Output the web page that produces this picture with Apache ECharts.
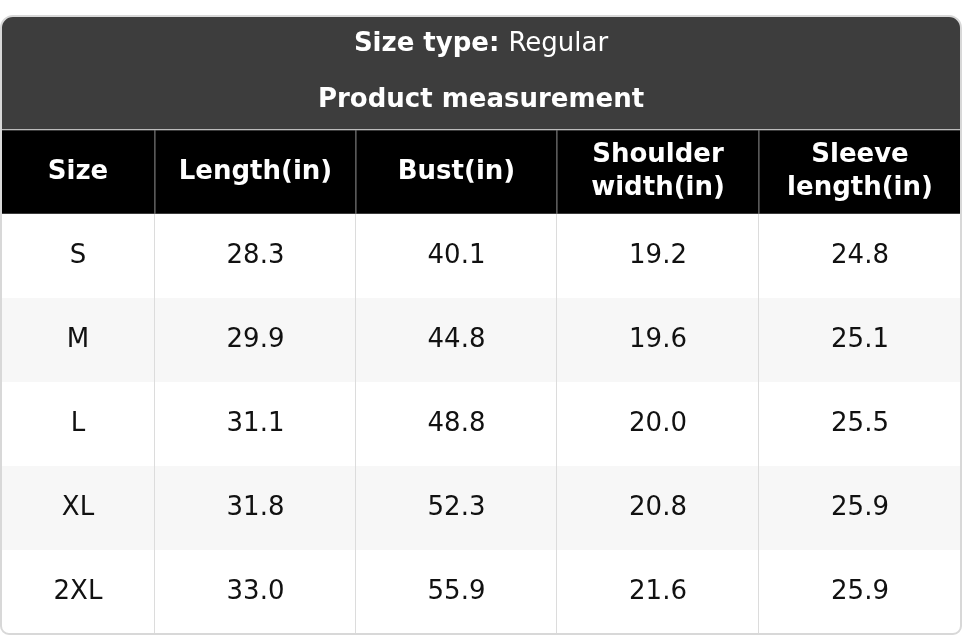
<!DOCTYPE html>
<html><head><meta charset="utf-8">
<script src="https://cdn.jsdelivr.net/npm/echarts@6/dist/echarts.min.js"></script>
<style>html,body{margin:0;padding:0;background:#fff}#c{width:962px;height:636px}</style>
</head><body><div id="c"></div>
<script>
const sizeType = "Regular";
const subtitle = "Product measurement";
const headers = ["Size", "Length(in)", "Bust(in)", "Shoulder\nwidth(in)", "Sleeve\nlength(in)"];
const sizes = ["S", "M", "L", "XL", "2XL"];
const lengthIn = ["28.3", "29.9", "31.1", "31.8", "33.0"];
const bustIn = ["40.1", "44.8", "48.8", "52.3", "55.9"];
const shoulderIn = ["19.2", "19.6", "20.0", "20.8", "21.6"];
const sleeveIn = ["24.8", "25.1", "25.5", "25.9", "25.9"];

const colEdges = [1, 155, 356, 557, 759, 961];
const top0 = 16, titleH = 113, headH = 84, rowH = 84;
const font = "DejaVu Sans";
const cols = [sizes, lengthIn, bustIn, shoulderIn, sleeveIn];

const data = [];
data.push({kind: "title"});
headers.forEach((h, c) => data.push({kind: "head", c, text: h}));
sizes.forEach((s, r) => cols.forEach((col, c) => data.push({kind: "cell", c, r, text: col[r]})));
data.push({kind: "frame"});

function renderItem(params, api) {
  const d = data[params.dataIndex];
  const P = (x, y) => api.coord([x, y]);
  if (d.kind === "title") {
    const a = P(1, top0), b = P(961, top0 + titleH);
    return {type: "group", children: [
      {type: "rect", shape: {x: a[0], y: a[1], width: b[0]-a[0], height: b[1]-a[1], r: [12,12,0,0]}, style: {fill: "#3d3d3d"}},
      {type: "text", x: (a[0]+b[0])/2, y: a[1]+28, style: {text: "{b|Size type: }{n|" + sizeType + "}", align: "center", verticalAlign: "middle",
        rich: {b: {font: "bold 26px '" + font + "'", fill: "#fff"}, n: {font: "26px '" + font + "'", fill: "#fff"}}}},
      {type: "text", x: (a[0]+b[0])/2, y: a[1]+84, style: {text: subtitle, align: "center", verticalAlign: "middle", font: "bold 26px '" + font + "'", fill: "#fff"}}
    ]};
  }
  if (d.kind === "head") {
    const y0 = top0 + titleH + 1;
    const a = P(colEdges[d.c], y0), b = P(colEdges[d.c+1], y0 + headH);
    return {type: "group", children: [
      {type: "rect", shape: {x: a[0], y: a[1], width: b[0]-a[0], height: b[1]-a[1]}, style: {fill: "#000", stroke: "#777", lineWidth: 1}},
      {type: "text", x: (a[0]+b[0])/2, y: (a[1]+b[1])/2, style: {text: d.text, align: "center", verticalAlign: "middle", font: "bold 26px '" + font + "'", fill: "#fff", lineHeight: 33}}
    ]};
  }
  if (d.kind === "cell") {
    const y0 = top0 + titleH + 1 + headH + d.r * rowH;
    const a = P(colEdges[d.c], y0), b = P(colEdges[d.c+1], y0 + rowH);
    return {type: "group", children: [
      {type: "rect", shape: {x: a[0], y: a[1], width: b[0]-a[0], height: b[1]-a[1]}, style: {fill: d.r % 2 ? "#f7f7f7" : "#fff"}},
      {type: "line", shape: {x1: b[0], y1: a[1], x2: b[0], y2: b[1]}, style: {stroke: d.c < 4 ? "#dcdcdc" : "none", lineWidth: 2}},
      {type: "text", x: (a[0]+b[0])/2, y: (a[1]+b[1])/2, style: {text: d.text, align: "center", verticalAlign: "middle", font: "26px '" + font + "'", fill: "#111"}}
    ]};
  }
  const a = P(1, top0), b = P(961, top0 + titleH + 1 + headH + sizes.length * rowH);
  return {type: "rect", shape: {x: a[0], y: a[1], width: b[0]-a[0], height: b[1]-a[1], r: [12,12,8,8]}, style: {fill: "none", stroke: "#d8d8d8", lineWidth: 2}};
}

const chart = echarts.init(document.getElementById("c"));
chart.setOption({
  animation: false,
  grid: {left: 0, right: 0, top: 0, bottom: 0},
  xAxis: {type: "value", min: 0, max: 962, show: false},
  yAxis: {type: "value", min: 0, max: 636, inverse: true, show: false},
  series: [{type: "custom", renderItem, data: data.map((d, i) => [i]), clip: false}]
});
</script></body></html>
